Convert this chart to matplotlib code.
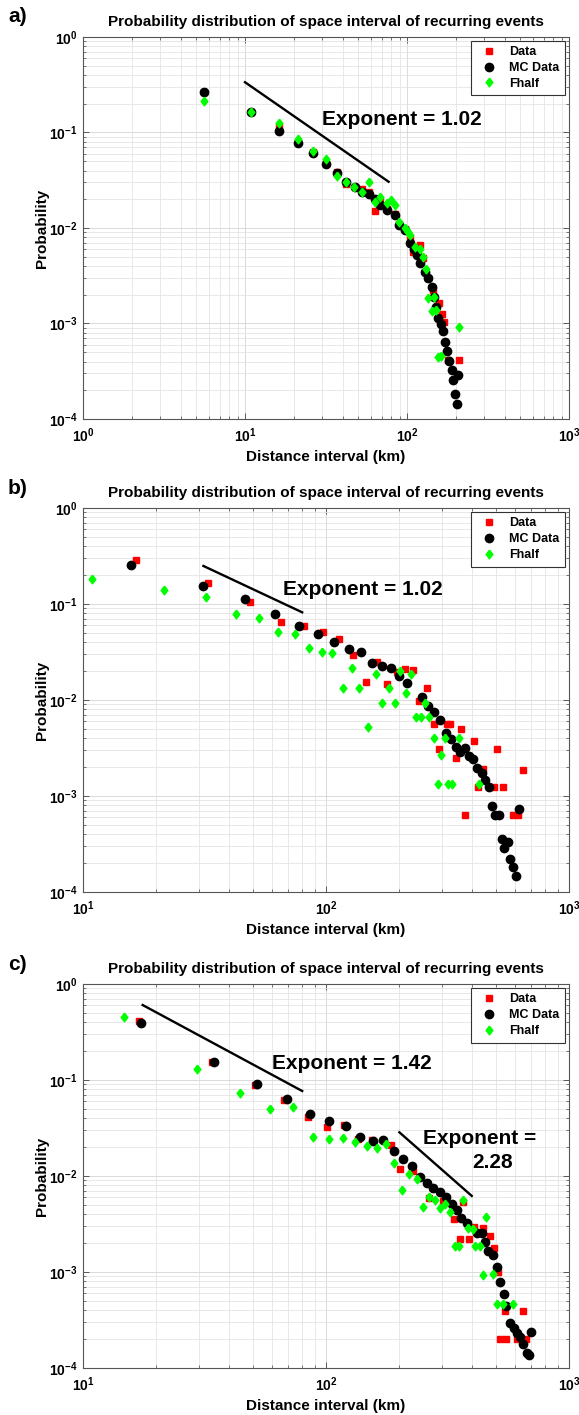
import numpy as np
import matplotlib
matplotlib.use('Agg')
from matplotlib import pyplot as plt
from matplotlib.ticker import FuncFormatter, LogLocator, NullFormatter

plt.rcParams['font.family'] = ['Liberation Sans', 'DejaVu Sans']
plt.rcParams['font.weight'] = 'bold'
plt.rcParams['mathtext.fontset'] = 'custom'
plt.rcParams['mathtext.rm'] = 'Liberation Sans:bold'
plt.rcParams['mathtext.bf'] = 'Liberation Sans:bold'

# ---- panel a ----
a_data_x = [5.58, 10.85, 16.1, 21.2, 26.4, 31.5, 36.8, 42, 47.7, 53, 58.3, 63.5, 68.1, 75.6, 84.3,
            89.3, 97.2, 104.4, 108.6, 120, 125, 135, 145, 158, 164, 169, 180, 210]
a_data_y = [0.265, 0.163, 0.113, 0.079, 0.062, 0.048, 0.039, 0.0289, 0.027, 0.0254, 0.024, 0.0152,
            0.019, 0.016, 0.014, 0.011, 0.0098, 0.0078, 0.00565, 0.00664, 0.0048, 0.0030, 0.00224,
            0.00165, 0.00125, 0.00104, 0.000415, 0.000415]
a_mc_x = [5.58, 10.85, 16.1, 21.2, 26.4, 31.5, 36.8, 42, 47.7, 53, 58.3, 63.5, 68.1, 75.6, 84.3,
          89.3, 97.2, 104.4, 110, 115, 120, 129, 135, 142, 146, 152, 156, 161.5, 166, 172, 176,
          182, 189, 207, 193, 198, 203]
a_mc_y = [0.267, 0.163, 0.104, 0.077, 0.0605, 0.0465, 0.0374, 0.0305, 0.0271, 0.024, 0.0225, 0.020,
          0.0174, 0.0154, 0.0137, 0.0108, 0.0095, 0.0070, 0.0060, 0.0052, 0.00427, 0.0035, 0.00297,
          0.00243, 0.0019, 0.0015, 0.00115, 0.00099, 0.00084, 0.000645, 0.000515, 0.000405,
          0.000326, 0.000289, 0.000256, 0.000181, 0.000143]
a_fh_x = [5.58, 10.85, 16.1, 21.2, 26.4, 31.5, 36.8, 42, 47.2, 53, 58.3, 63.5, 68.1, 75.6, 79.3,
          84.3, 89.3, 97.2, 102, 104.4, 112, 120, 126, 131, 135, 147, 142, 152, 156, 161, 210]
a_fh_y = [0.214, 0.163, 0.125, 0.0855, 0.0645, 0.0524, 0.0353, 0.030, 0.0267, 0.024, 0.030, 0.0189,
          0.0213, 0.0181, 0.0196, 0.0174, 0.0116, 0.0099, 0.00915, 0.00845, 0.00637, 0.0061, 0.0050,
          0.0037, 0.00184, 0.00191, 0.00135, 0.00138, 0.00045, 0.000455, 0.00091]
a_fit_x = [10, 77]
a_fit_y = [0.336, 0.0305]

# ---- panel b ----
b_data_x = [16.5, 32.6, 48.7, 65, 81.5, 97.5, 113.5, 129, 145.5, 161.5, 178.6, 195.4, 211, 228.5,
            242, 260, 277, 292, 314, 324, 342, 358, 374, 406, 424, 441, 489, 504, 516, 537, 586,
            618, 649]
b_data_y = [0.287, 0.167, 0.104, 0.0654, 0.059, 0.0507, 0.0429, 0.0292, 0.0155, 0.025, 0.0147,
            0.0197, 0.0209, 0.0206, 0.0098, 0.0132, 0.00558, 0.00309, 0.00558, 0.00558, 0.00247,
            0.00499, 0.00063, 0.00374, 0.00125, 0.0019, 0.00125, 0.00311, 0.00063, 0.00125,
            0.00063, 0.00063, 0.00187]
b_mc_x = [15.7, 31.1, 46.4, 61.8, 77.4, 93, 108, 124, 139, 155, 170.5, 186, 200.5, 216, 248, 263.6,
          279, 294.5, 311, 326, 342, 356, 373, 389, 404, 420, 437.5, 451, 469, 482, 496, 516, 622,
          528, 562, 542, 572, 590, 605]
b_mc_y = [0.255, 0.154, 0.112, 0.078, 0.0594, 0.0483, 0.0399, 0.0337, 0.0314, 0.0245, 0.0226,
          0.0214, 0.0178, 0.0149, 0.0108, 0.00866, 0.00745, 0.00614, 0.0045, 0.00393, 0.00322,
          0.0029, 0.00314, 0.00263, 0.00243, 0.00197, 0.00172, 0.00147, 0.00125, 0.00079,
          0.000634, 0.000634, 0.00074, 0.000354, 0.000334, 0.000285, 0.00022, 0.000184, 0.000147]
b_fh_x = [10.9, 21.5, 32, 42.7, 53.2, 63.7, 74.5, 85.1, 96, 106, 117, 127.6, 137, 149, 160, 170.5,
          181, 192, 202, 213, 223, 234.5, 245, 255.5, 266, 278, 288, 298.5, 309, 318.5, 331, 352,
          428]
b_fh_y = [0.181, 0.14, 0.119, 0.0787, 0.0721, 0.0507, 0.0483, 0.0345, 0.0318, 0.0306, 0.0132,
          0.0214, 0.0132, 0.00527, 0.0185, 0.0094, 0.0132, 0.0094, 0.0202, 0.0119, 0.0185,
          0.00665, 0.00665, 0.0094, 0.00665, 0.00399, 0.00133, 0.00265, 0.00399, 0.00133,
          0.00133, 0.00399, 0.00133]
b_fit_x = [31.3, 79.8]
b_fit_y = [0.249, 0.0819]

# ---- panel c ----
c_data_x = [17, 33.9, 51, 67.4, 84.1, 100.6, 118.3, 135, 154, 186, 202, 227.7, 265, 302, 336, 356,
            367, 387, 406, 441.5, 473, 493, 511, 520, 545, 553, 609, 645, 665]
c_data_y = [0.412, 0.155, 0.0887, 0.062, 0.0409, 0.0327, 0.034, 0.0245, 0.0235, 0.021, 0.0117,
            0.0113, 0.0059, 0.00553, 0.00356, 0.00219, 0.0054, 0.00219, 0.00296, 0.00285, 0.00237,
            0.00179, 0.00099, 0.000199, 0.000395, 0.000199, 0.000199, 0.000395, 0.000199]
c_mc_x = [17.4, 34.6, 51.9, 68.9, 86, 103, 121, 138, 155.7, 171, 190.5, 207, 225.5, 244, 259.5,
          276.6, 294.5, 312, 329, 344.5, 361, 380, 417, 437.5, 451, 462, 485, 504, 520, 541, 553,
          572, 596, 609, 629, 698, 649, 670, 687]
c_mc_y = [0.395, 0.154, 0.09, 0.0634, 0.0439, 0.0374, 0.0332, 0.0253, 0.0232, 0.0237, 0.0182,
          0.015, 0.0128, 0.0097, 0.0084, 0.00745, 0.00687, 0.006, 0.0051, 0.00442, 0.00362,
          0.00322, 0.00253, 0.00253, 0.00207, 0.00167, 0.0015, 0.00112, 0.00079, 0.000586,
          0.000443, 0.000296, 0.000259, 0.00023, 0.000212, 0.000235, 0.000178, 0.000142, 0.000137]
c_fh_x = [14.8, 29.4, 44.3, 58.9, 73.4, 88.7, 103, 118, 132, 147, 161.5, 176.6, 190.5, 206, 220,
          236, 250, 265.5, 281, 294.5, 309, 324, 340, 352, 367, 385, 401, 410, 430, 444, 455, 485,
          504, 533, 590]
c_fh_y = [0.45, 0.129, 0.0738, 0.0503, 0.0527, 0.0257, 0.0245, 0.0247, 0.0224, 0.0205, 0.0197,
          0.0216, 0.0138, 0.00715, 0.0105, 0.0093, 0.00472, 0.0061, 0.00562, 0.00461, 0.00507,
          0.00418, 0.00187, 0.00187, 0.00568, 0.00285, 0.00279, 0.00187, 0.00187, 0.00093,
          0.00377, 0.00095, 0.000464, 0.000464, 0.000464]
c_fit1_x = [17.6, 79.8]
c_fit1_y = [0.604, 0.0768]
c_fit2_x = [200.5, 398]
c_fit2_y = [0.0285, 0.0062]

TITLE = 'Probability distribution of space interval of recurring events'
DIAMOND = [(0, 1), (0.77, 0), (0, -1), (-0.77, 0), (0, 1)]


def decade_label(v, pos):
    return r'$\mathbf{10^{%d}}$' % int(round(np.log10(v)))


def style_axes(ax, xmin):
    ax.set_xscale('log')
    ax.set_yscale('log')
    ax.set_xlim(xmin, 1e3)
    ax.set_ylim(1e-4, 1)
    ax.xaxis.set_major_locator(LogLocator(base=10, numticks=10))
    ax.yaxis.set_major_locator(LogLocator(base=10, numticks=10))
    ax.xaxis.set_minor_locator(LogLocator(base=10, subs=np.arange(2, 10), numticks=20))
    ax.yaxis.set_minor_locator(LogLocator(base=10, subs=np.arange(2, 10), numticks=20))
    ax.xaxis.set_major_formatter(FuncFormatter(decade_label))
    ax.yaxis.set_major_formatter(FuncFormatter(decade_label))
    ax.xaxis.set_minor_formatter(NullFormatter())
    ax.yaxis.set_minor_formatter(NullFormatter())
    ax.grid(True, which='major', color='#d4d4d4', lw=0.6, ls='-')
    ax.grid(True, which='minor', color='#e4e4e4', lw=0.6, ls='-')
    ax.set_axisbelow(True)
    ax.tick_params(which='both', direction='in', top=True, right=True, colors='#444444',
                   labelcolor='black', labelsize=10)
    ax.tick_params(which='major', length=4, width=0.6, pad=4)
    ax.tick_params(axis='x', which='major', pad=5.5)
    ax.tick_params(which='minor', length=2, width=0.5)
    for s in ax.spines.values():
        s.set_color('#555555')
        s.set_linewidth(0.8)
    ax.set_title(TITLE, fontsize=11, fontweight='bold', pad=8)
    ax.set_xlabel('Distance interval (km)', fontsize=11, fontweight='bold')
    ax.set_ylabel('Probability', fontsize=11, fontweight='bold')
    ax.xaxis.set_label_coords(0.5, -0.082)
    ax.yaxis.set_label_coords(-0.07, 0.5)


def draw_panel(ax, dx, dy, mx, my, fx, fy, xmin):
    ax.plot(dx, dy, ls='none', marker='s', ms=5, color='#ff0000', mec='#ff0000', label='Data')
    ax.plot(mx, my, ls='none', marker='o', ms=6, color='black', mec='black', label='MC Data')
    ax.plot(fx, fy, ls='none', marker=DIAMOND, ms=6.3, color='#00ff00', mec='#00ff00',
            label='Fhalf')
    style_axes(ax, xmin)
    leg = ax.legend(loc='upper right', frameon=True, fancybox=False, framealpha=1,
                    edgecolor='#333333', borderaxespad=0.3, labelspacing=0.3,
                    handletextpad=0.6, borderpad=0.45, prop={'weight': 'bold', 'size': 9})
    leg.get_frame().set_linewidth(0.8)


fig = plt.figure(figsize=(5.79, 14.15), dpi=100)
ax_a = fig.add_axes([83 / 579, 1 - 419 / 1415, 486 / 579, 382 / 1415])
ax_b = fig.add_axes([83 / 579, 1 - 892 / 1415, 486 / 579, 384 / 1415])
ax_c = fig.add_axes([83 / 579, 1 - 1368 / 1415, 486 / 579, 384 / 1415])

draw_panel(ax_a, a_data_x, a_data_y, a_mc_x, a_mc_y, a_fh_x, a_fh_y, 1)
ax_a.plot(a_fit_x, a_fit_y, color='black', lw=1.7)
ax_a.text(29.9, 0.138, 'Exponent = 1.02', fontsize=15, fontweight='bold', ha='left', va='center')

draw_panel(ax_b, b_data_x, b_data_y, b_mc_x, b_mc_y, b_fh_x, b_fh_y, 10)
ax_b.plot(b_fit_x, b_fit_y, color='black', lw=1.7)
ax_b.text(66.5, 0.14, 'Exponent = 1.02', fontsize=15, fontweight='bold', ha='left', va='center')

draw_panel(ax_c, c_data_x, c_data_y, c_mc_x, c_mc_y, c_fh_x, c_fh_y, 10)
ax_c.plot(c_fit1_x, c_fit1_y, color='black', lw=1.7)
ax_c.plot(c_fit2_x, c_fit2_y, color='black', lw=1.7)
ax_c.text(60, 0.150, 'Exponent = 1.42', fontsize=15, fontweight='bold', ha='left', va='center')
ax_c.text(250.5, 0.0243, 'Exponent =', fontsize=15, fontweight='bold', ha='left', va='center')
ax_c.text(486, 0.0137, '2.28', fontsize=15, fontweight='bold', ha='center', va='center')

for lab, ypx in [('a)', 17), ('b)', 488), ('c)', 965)]:
    fig.text(8 / 579, 1 - ypx / 1415, lab, fontsize=15, fontweight='bold', ha='left', va='center')

fig.savefig('out.png', dpi=100)
